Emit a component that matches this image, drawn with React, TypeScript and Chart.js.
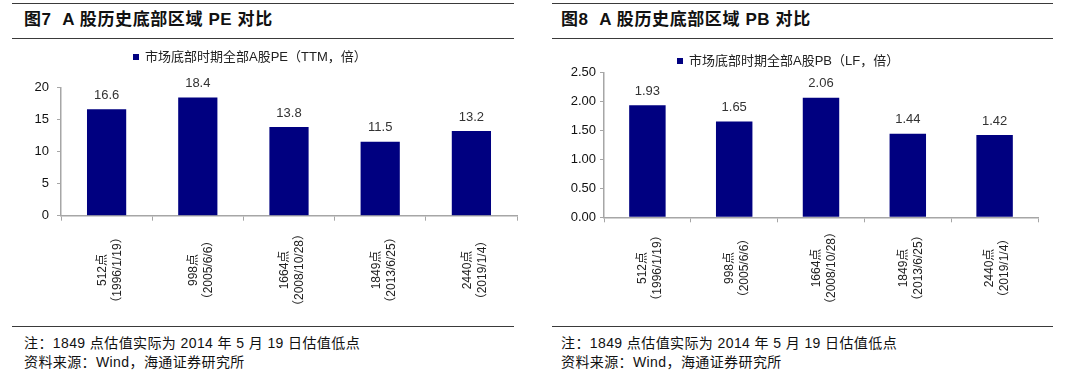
import React, { useEffect, useRef } from "react";
import { Chart, registerables } from "chart.js";
Chart.register(...registerables);

const categories = ["512点", "998点", "1664点", "1849点", "2440点"];
const dates = ["（1996/1/19）", "（2005/6/6）", "（2008/10/28）", "（2013/6/25）", "（2019/1/4）"];
const peValues = [16.6, 18.4, 13.8, 11.5, 13.2];
const pbValues = [1.93, 1.65, 2.06, 1.44, 1.42];
const peTicks = [0, 5, 10, 15, 20];
const pbTicks = [0, 0.5, 1, 1.5, 2, 2.5];
const peTitle = "图7  A 股历史底部区域 PE 对比";
const pbTitle = "图8  A 股历史底部区域 PB 对比";
const peLegend = "市场底部时期全部A股PE（TTM，倍）";
const pbLegend = "市场底部时期全部A股PB（LF，倍）";
const noteLine = "注：1849 点估值实际为 2014 年 5 月 19 日估值低点";
const sourceLine = "资料来源：Wind，海通证券研究所";

const FONT = '"Liberation Sans", Arial, "Noto Sans CJK SC", sans-serif';
const NAVY = "#000080";
const AXIS = "#a6a6a6";

type Box = { left: number; top: number; width: number; height: number };
type Area = { left: number; top: number; right: number; bottom: number };

function BarChart(props: {
  values: number[];
  ticks: number[];
  decimals: number;
  tickDecimals: number;
  legend: string;
  box: Box;
  area: Area;
  tickPad: number;
  labelCenterY: number;
  labelShift: number;
  barPct: number;
}) {
  const ref = useRef<HTMLCanvasElement | null>(null);
  useEffect(() => {
    const { values, ticks, decimals, tickDecimals, legend, box, area, tickPad, labelCenterY, labelShift, barPct } = props;
    const yWidth = area.left - box.left;
    const padTop = area.top - box.top;
    const padRight = box.left + box.width - area.right;
    const xHeight = box.top + box.height - area.bottom;
    const plugin = {
      id: "customLabels",
      afterDatasetsDraw(chart: any) {
        const ctx = chart.ctx;
        const meta = chart.getDatasetMeta(0);
        ctx.save();
        ctx.font = "13px " + FONT;
        ctx.fillStyle = "#333";
        ctx.textAlign = "center";
        ctx.textBaseline = "middle";
        meta.data.forEach((bar: any, i: number) => {
          const v = chart.data.datasets[0].data[i] as number;
          ctx.fillText(v.toFixed(decimals), bar.x, bar.y - 14);
        });
        ctx.restore();
      },
      afterDraw(chart: any) {
        const ctx = chart.ctx;
        const xs = chart.scales.x;
        ctx.save();
        ctx.font = "12px " + FONT;
        ctx.fillStyle = "#222";
        ctx.textAlign = "center";
        ctx.textBaseline = "middle";
        (chart.data.labels as string[][]).forEach((lab, i) => {
          const x = xs.getPixelForValue(i) + labelShift;
          ctx.save();
          ctx.translate(x, labelCenterY - box.top);
          ctx.rotate(-Math.PI / 2);
          ctx.fillText(lab[0], 0, -7.5);
          ctx.fillText(lab[1], 0, 7.5);
          ctx.restore();
        });
        ctx.restore();
      },
    };
    const chart = new Chart(ref.current as HTMLCanvasElement, {
      type: "bar",
      data: {
        labels: categories.map((c, i) => [c, dates[i]]),
        datasets: [
          {
            label: legend,
            data: values,
            backgroundColor: NAVY,
            borderWidth: 0,
            categoryPercentage: 1,
            barPercentage: barPct,
          },
        ],
      },
      options: {
        animation: false,
        responsive: false,
        layout: { padding: { top: padTop, right: padRight, left: 0, bottom: 0 } },
        plugins: { legend: { display: false }, tooltip: { enabled: false }, title: { display: false } },
        scales: {
          x: {
            offset: true,
            grid: { display: true, drawOnChartArea: false, drawTicks: true, tickLength: 5, offset: true, color: AXIS, lineWidth: 1 },
            border: { display: true, color: AXIS, width: 1.5 },
            ticks: { display: false },
            afterFit: (s: any) => {
              s.height = xHeight;
            },
          },
          y: {
            min: ticks[0],
            max: ticks[ticks.length - 1],
            grid: { display: true, drawOnChartArea: false, drawTicks: true, tickLength: 4, color: AXIS, lineWidth: 1 },
            border: { display: true, color: AXIS, width: 1.5 },
            ticks: {
              padding: tickPad,
              color: "#111",
              font: { size: 13, family: FONT },
              callback: (v: any) => Number(v).toFixed(tickDecimals),
            },
            afterBuildTicks: (s: any) => {
              s.ticks = ticks.map((v) => ({ value: v }));
            },
            afterFit: (s: any) => {
              s.width = yWidth;
            },
          },
        },
      } as any,
      plugins: [plugin],
    });
    return () => chart.destroy();
  }, []);
  const { box } = props;
  return (
    <canvas
      ref={ref}
      width={box.width}
      height={box.height}
      style={{ position: "absolute", left: box.left, top: box.top, width: box.width, height: box.height }}
    />
  );
}

function Panel(props: {
  x0: number;
  x1: number;
  textLeft: number;
  title: string;
  legend: string;
  legendLeft: number;
  legendY: number;
  children: React.ReactNode;
}) {
  const { x0, x1, textLeft, title, legend, legendLeft, legendY } = props;
  const line = (y: number) => (
    <div style={{ position: "absolute", left: x0, top: y, width: x1 - x0, height: 1.6, background: "#3a3a3a" }} />
  );
  return (
    <>
      {line(2.5)}
      {line(37.5)}
      {line(325.5)}
      <div
        style={{
          position: "absolute",
          left: textLeft,
          top: 8,
          height: 24,
          lineHeight: "24px",
          fontFamily: FONT,
          fontWeight: "bold",
          fontSize: 17,
          letterSpacing: 0.6,
          whiteSpace: "pre",
          color: "#111",
        }}
      >
        {title}
      </div>
      {props.children}
      <div
        style={{
          position: "absolute",
          left: legendLeft,
          top: legendY - 3,
          width: 6,
          height: 6,
          background: NAVY,
          zIndex: 2,
        }}
      />
      <div
        style={{
          position: "absolute",
          left: legendLeft + 12,
          top: legendY - 8,
          height: 16,
          lineHeight: "16px",
          fontFamily: FONT,
          fontSize: 13,
          whiteSpace: "pre",
          color: "#222",
          zIndex: 2,
        }}
      >
        {legend}
      </div>
      <div
        style={{
          position: "absolute",
          left: textLeft,
          top: 334,
          lineHeight: "19px",
          fontFamily: FONT,
          fontSize: 14,
          letterSpacing: 0.4,
          whiteSpace: "pre",
          color: "#111",
        }}
      >
        <div>{noteLine}</div>
        <div>{sourceLine}</div>
      </div>
    </>
  );
}

export default function App() {
  return (
    <div style={{ position: "absolute", left: 0, top: 0, width: 1080, height: 387, background: "#fff", overflow: "hidden" }}>
      <Panel x0={12} x1={514} textLeft={24} title={peTitle} legend={peLegend} legendLeft={133} legendY={57}>
        <BarChart
          values={peValues}
          ticks={peTicks}
          decimals={1}
          tickDecimals={0}
          legend={peLegend}
          box={{ left: 12, top: 40, width: 518, height: 282 }}
          area={{ left: 61, top: 87.3, right: 517, bottom: 215.7 }}
          tickPad={8}
          labelCenterY={270}
          labelShift={3.5}
          barPct={0.43}
        />
      </Panel>
      <Panel x0={552} x1={1053} textLeft={561} title={pbTitle} legend={pbLegend} legendLeft={677} legendY={61}>
        <BarChart
          values={pbValues}
          ticks={pbTicks}
          decimals={2}
          tickDecimals={2}
          legend={pbLegend}
          box={{ left: 552, top: 40, width: 500, height: 282 }}
          area={{ left: 604, top: 72.3, right: 1038, bottom: 217.3 }}
          tickPad={4}
          labelCenterY={268}
          labelShift={3}
          barPct={0.42}
        />
      </Panel>
    </div>
  );
}
